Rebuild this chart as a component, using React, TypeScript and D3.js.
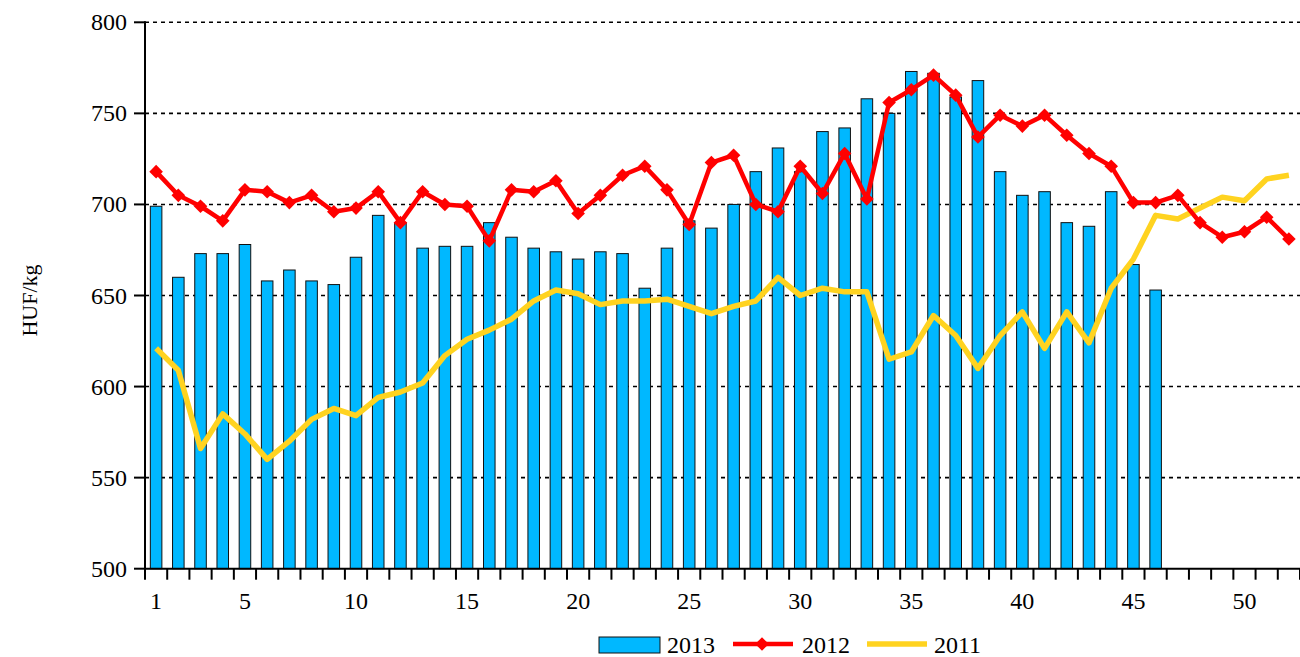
import React from "react";
import * as d3 from "d3";

const weeks: number[] = Array.from({ length: 52 }, (_, i) => i + 1);

const values2013: number[] = [
  699, 660, 673, 673, 678, 658, 664, 658, 656, 671,
  694, 690, 676, 677, 677, 690, 682, 676, 674, 670,
  674, 673, 654, 676, 691, 687, 700, 718, 731, 718,
  740, 742, 758, 750, 773, 772, 759, 768, 718, 705,
  707, 690, 688, 707, 667, 653,
];

const values2012: number[] = [
  718, 705, 699, 691, 708, 707, 701, 705, 696, 698,
  707, 690, 707, 700, 699, 680, 708, 707, 713, 695,
  705, 716, 721, 708, 689, 723, 727, 700, 696, 721,
  706, 728, 703, 756, 763, 771, 760, 737, 749, 743,
  749, 738, 728, 721, 701, 701, 705, 690, 682, 685,
  693, 681,
];

const values2011: number[] = [
  621, 609, 566, 585, 574, 560, 570, 582, 588, 584,
  594, 597, 602, 617, 626, 631, 637, 647, 653, 651,
  645, 647, 647, 648, 644, 640, 644, 647, 660, 650,
  654, 652, 652, 615, 619, 639, 628, 610, 628, 641,
  621, 641, 624, 654, 670, 694, 692, 698, 704, 702,
  714, 716,
];

const yTicks: number[] = [500, 550, 600, 650, 700, 750, 800];
const xTickLabels: number[] = [1, 5, 10, 15, 20, 25, 30, 35, 40, 45, 50];
const seriesNames: string[] = ["2013", "2012", "2011"];

const W = 1300;
const H = 657;
const left = 145;
const right = 1300;
const top = 22.3;
const bottom = 568.7;

const BLUE = "#00B8FF";
const RED = "#FF0000";
const YELLOW = "#FFD320";
const FONT = "'Liberation Serif', 'Times New Roman', serif";

export default function App() {
  const x = d3
    .scaleBand<number>()
    .domain(weeks)
    .range([left, right])
    .paddingInner(0.48)
    .paddingOuter(0.24);
  const y = d3.scaleLinear().domain([500, 800]).range([bottom, top]);
  const cx = (w: number) => (x(w) as number) + x.bandwidth() / 2;
  const step = x.step();

  const line = d3
    .line<number>()
    .x((_, i) => cx(weeks[i]))
    .y((d) => y(d));

  const diamond = (px: number, py: number, r: number) =>
    `M${px},${py - r}L${px + r},${py}L${px},${py + r}L${px - r},${py}Z`;

  const boundaries: number[] = weeks.map((w) => cx(w) - step / 2);
  boundaries.push(cx(52) + step / 2);

  return (
    <svg
      width={W}
      height={H}
      style={{ position: "absolute", left: 0, top: 0, background: "#fff", fontFamily: FONT }}
    >
      {yTicks
        .filter((t) => t !== 500)
        .map((t) => (
          <line
            key={"g" + t}
            x1={left}
            x2={right}
            y1={y(t)}
            y2={y(t)}
            stroke="#000"
            strokeWidth={1.6}
            strokeDasharray="4,4"
          />
        ))}

      {values2013.map((v, i) => (
        <rect
          key={"b" + i}
          x={x(weeks[i])}
          y={y(v)}
          width={x.bandwidth()}
          height={y(500) - y(v)}
          fill={BLUE}
          stroke="#111"
          strokeWidth={1}
        />
      ))}

      <path
        d={line(values2011) || ""}
        fill="none"
        stroke={YELLOW}
        strokeWidth={5.5}
        strokeLinejoin="round"
      />

      <path
        d={line(values2012) || ""}
        fill="none"
        stroke={RED}
        strokeWidth={4.5}
        strokeLinejoin="round"
      />
      {values2012.map((v, i) => (
        <path key={"m" + i} d={diamond(cx(weeks[i]), y(v), 6.8)} fill={RED} />
      ))}

      <line x1={left} x2={left} y1={top - 1} y2={bottom + 1} stroke="#000" strokeWidth={2} />
      <line x1={left} x2={right} y1={bottom} y2={bottom} stroke="#000" strokeWidth={2} />
      {yTicks.map((t) => (
        <g key={"yt" + t}>
          <line x1={left - 11} x2={left} y1={y(t)} y2={y(t)} stroke="#000" strokeWidth={2} />
          <text
            x={left - 18}
            y={y(t)}
            textAnchor="end"
            dominantBaseline="central"
            fontSize={24}
            fill="#000"
          >
            {t}
          </text>
        </g>
      ))}
      {boundaries.map((bx, i) => (
        <line key={"xt" + i} x1={bx} x2={bx} y1={bottom} y2={bottom + 11} stroke="#000" strokeWidth={2} />
      ))}
      {xTickLabels.map((w) => (
        <text
          key={"xl" + w}
          x={cx(w)}
          y={bottom + 32}
          textAnchor="middle"
          dominantBaseline="central"
          fontSize={24}
          fill="#000"
        >
          {w}
        </text>
      ))}

      <text
        transform={`translate(29,${(top + bottom) / 2 + 5}) rotate(-90)`}
        textAnchor="middle"
        dominantBaseline="central"
        fontSize={22}
        fill="#000"
      >
        HUF/kg
      </text>

      <g fontSize={24}>
        <rect x={599} y={637} width={61} height={16} fill={BLUE} stroke="#111" strokeWidth={1} />
        <text x={667} y={653} fill="#000">{seriesNames[0]}</text>
        <line x1={733} x2={793} y1={644} y2={644} stroke={RED} strokeWidth={4.5} />
        <path d={diamond(762, 644, 6.8)} fill={RED} />
        <text x={802} y={653} fill="#000">{seriesNames[1]}</text>
        <line x1={867} x2={927} y1={644} y2={644} stroke={YELLOW} strokeWidth={5.5} />
        <text x={934} y={653} fill="#000">{seriesNames[2]}</text>
      </g>
    </svg>
  );
}
